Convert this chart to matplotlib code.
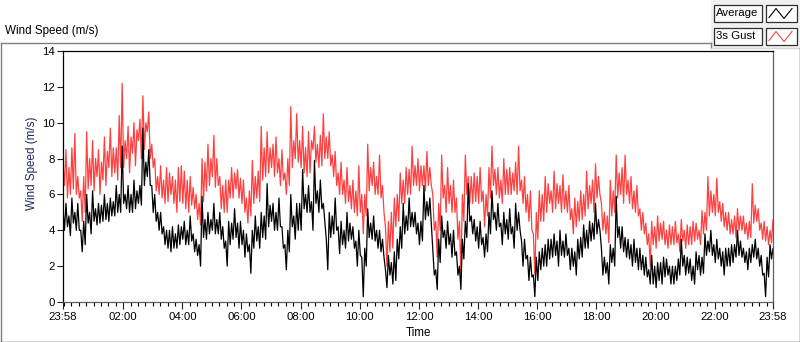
import matplotlib
matplotlib.use("Agg")
import matplotlib.pyplot as plt
import numpy as np
from matplotlib.patches import Rectangle
from matplotlib.lines import Line2D
from matplotlib.ticker import FixedLocator

plt.rcParams["font.family"] = ["Liberation Sans", "DejaVu Sans"]

# readings every 6 minutes from 23:58: the high and the low seen in each window
STEP_MIN = 6

gust_hi = [
    7.8, 8.5, 7.5, 8.6, 9.4, 7.0, 6.2, 7.0, 9.5, 8.0,
    9.0, 8.0, 8.5, 7.8, 9.2, 8.4, 9.7, 8.6, 8.6, 10.4,
    12.2, 9.0, 9.8, 9.2, 10.0, 9.6, 10.2, 11.5, 10.0, 10.6,
    8.8, 8.0, 7.0, 7.6, 6.8, 7.5, 7.2, 7.0, 6.8, 7.5,
    7.6, 7.3, 6.8, 7.0, 6.4, 6.0, 5.5, 8.0, 7.8, 8.8,
    8.0, 9.3, 8.0, 7.0, 6.5, 6.8, 6.8, 7.5, 7.2, 7.4,
    6.9, 6.8, 5.8, 6.2, 7.9, 7.0, 7.3, 9.8, 8.6, 9.5,
    8.6, 8.8, 9.2, 8.0, 8.5, 7.2, 8.0, 10.9, 9.0, 10.5,
    9.0, 9.8, 8.6, 9.5, 9.0, 9.8, 8.8, 9.3, 10.5, 9.2,
    9.5, 8.2, 8.4, 7.2, 7.8, 6.8, 7.5, 6.5, 6.8, 6.2,
    7.6, 6.0, 6.0, 8.8, 7.5, 7.8, 7.0, 8.2, 6.5, 4.2,
    4.5, 5.0, 5.8, 6.0, 7.2, 6.8, 7.5, 7.4, 8.7, 7.6,
    8.0, 7.6, 7.6, 8.4, 7.5, 6.0, 4.5, 5.5, 8.2, 6.5,
    7.5, 6.5, 6.8, 5.8, 4.5, 6.0, 8.2, 7.0, 7.0, 7.2,
    7.0, 7.5, 6.2, 6.0, 7.5, 8.7, 7.4, 7.5, 6.8, 8.0,
    7.4, 7.5, 7.2, 7.8, 8.7, 6.8, 7.0, 6.0, 6.2, 3.8,
    5.0, 6.2, 6.0, 7.0, 6.6, 6.2, 7.3, 6.6, 6.5, 7.1,
    6.2, 6.5, 5.2, 5.8, 5.6, 6.2, 6.0, 7.3, 6.5, 6.8,
    7.7, 7.0, 5.5, 5.0, 4.8, 6.8, 6.2, 8.2, 7.2, 7.5,
    8.2, 6.8, 7.0, 6.2, 6.5, 5.2, 5.0, 4.4, 3.8, 4.5,
    4.2, 4.8, 4.4, 4.5, 4.0, 4.3, 4.2, 4.5, 3.8, 4.6,
    4.0, 4.3, 4.2, 4.5, 4.4, 4.0, 5.1, 5.0, 7.0, 6.2,
    6.0, 6.9, 5.6, 5.5, 5.0, 5.0, 4.6, 4.8, 5.2, 4.8,
    4.8, 4.4, 4.5, 6.6, 5.4, 5.2, 4.4, 4.5, 4.2, 4.0, 4.6,
]

gust_lo = [
    6.5, 5.8, 6.0, 6.3, 6.0, 5.8, 4.5, 5.0, 6.3, 6.5,
    6.2, 7.0, 6.0, 6.8, 6.5, 7.5, 7.0, 7.2, 6.8, 7.5,
    7.5, 8.0, 7.2, 8.3, 7.6, 9.0, 8.0, 8.5, 9.5, 8.0,
    7.5, 6.2, 6.0, 5.8, 5.5, 5.6, 6.0, 5.5, 5.0, 5.6,
    5.5, 5.2, 5.0, 5.4, 5.2, 4.6, 4.3, 5.6, 6.2, 6.5,
    7.0, 6.4, 6.5, 5.2, 5.0, 5.0, 5.8, 5.8, 6.3, 5.8,
    5.5, 5.0, 4.4, 4.8, 5.5, 5.8, 5.6, 6.8, 7.0, 7.2,
    7.5, 7.0, 7.2, 6.5, 6.8, 6.0, 6.5, 7.5, 8.0, 7.8,
    7.5, 7.2, 7.0, 7.2, 8.5, 7.8, 7.5, 7.6, 8.0, 8.0,
    7.6, 7.0, 6.5, 6.0, 6.0, 5.5, 5.6, 5.2, 5.0, 4.8,
    5.0, 3.8, 4.8, 6.2, 6.5, 6.0, 6.0, 5.8, 5.0, 2.0,
    2.8, 3.0, 4.2, 4.5, 5.5, 5.5, 6.0, 6.0, 6.5, 6.5,
    6.2, 6.5, 6.2, 6.5, 6.5, 4.0, 2.5, 4.0, 5.8, 5.0,
    5.5, 5.0, 5.0, 3.5, 1.6, 4.5, 6.0, 5.5, 5.5, 5.6,
    5.5, 5.6, 4.2, 4.8, 5.8, 6.5, 6.0, 5.8, 5.5, 6.0,
    6.0, 6.0, 6.2, 6.0, 6.2, 5.5, 5.0, 4.5, 4.0, 1.5,
    3.5, 4.5, 4.5, 5.0, 5.5, 5.0, 5.2, 5.5, 5.0, 5.2,
    5.0, 4.6, 3.8, 4.2, 4.5, 4.6, 4.8, 5.2, 5.5, 5.0,
    5.8, 6.0, 4.0, 3.8, 3.3, 4.8, 5.0, 5.8, 6.0, 5.5,
    6.0, 5.5, 5.2, 5.0, 4.8, 4.0, 3.8, 3.2, 2.0, 3.2,
    3.0, 3.4, 3.5, 3.2, 3.0, 3.2, 3.2, 3.3, 2.8, 3.4,
    3.0, 3.2, 3.2, 3.4, 3.5, 3.2, 3.8, 4.0, 4.8, 5.0,
    4.8, 5.0, 4.5, 4.2, 4.0, 3.8, 3.8, 3.6, 4.0, 4.0,
    3.8, 3.5, 3.6, 4.4, 4.5, 4.0, 3.5, 3.4, 3.2, 3.3, 3.6,
]

avg_hi = [
    5.2, 5.5, 4.8, 5.8, 5.0, 5.5, 4.0, 4.5, 6.0, 5.0,
    6.2, 5.2, 5.5, 5.4, 6.0, 5.5, 5.8, 5.6, 6.5, 6.0,
    8.7, 6.0, 6.5, 6.0, 6.8, 6.2, 6.5, 9.7, 7.8, 8.5,
    6.5, 6.0, 5.0, 5.0, 4.2, 4.0, 4.0, 4.2, 3.8, 4.3,
    4.2, 4.5, 4.0, 4.8, 3.8, 3.5, 3.2, 5.9, 4.6, 5.0,
    4.6, 5.5, 4.6, 5.0, 4.2, 3.4, 4.5, 4.4, 5.2, 4.4,
    4.5, 4.0, 3.8, 3.2, 4.0, 4.8, 4.2, 5.0, 4.8, 6.6,
    5.4, 5.5, 5.0, 5.8, 4.2, 3.2, 4.0, 6.0, 4.8, 5.5,
    5.5, 7.4, 6.0, 6.5, 5.6, 7.9, 6.2, 6.8, 5.5, 3.5,
    5.0, 4.8, 5.8, 4.2, 4.5, 4.0, 5.0, 4.4, 4.2, 3.4,
    4.0, 2.5, 3.0, 5.2, 4.4, 4.8, 4.0, 4.0, 3.5, 1.8,
    2.6, 2.2, 2.8, 3.5, 4.2, 5.5, 4.8, 5.8, 5.0, 5.0,
    4.4, 4.5, 6.5, 5.6, 5.8, 3.0, 1.8, 3.5, 4.8, 4.0,
    4.5, 3.8, 4.0, 2.8, 2.0, 3.5, 4.5, 6.6, 4.8, 4.6,
    4.2, 4.5, 3.6, 3.8, 5.0, 6.2, 5.0, 5.5, 4.4, 5.0,
    4.6, 5.2, 4.2, 5.5, 5.0, 3.4, 3.5, 2.6, 2.5, 1.5,
    2.5, 2.8, 3.0, 3.2, 3.5, 3.5, 3.8, 3.4, 4.0, 3.4,
    3.8, 3.0, 3.0, 2.8, 3.5, 3.6, 4.3, 4.0, 4.5, 4.4,
    5.5, 4.6, 3.0, 2.5, 2.2, 3.2, 3.0, 5.9, 4.2, 4.2,
    3.6, 3.5, 3.2, 3.5, 3.0, 3.0, 2.6, 2.5, 1.8, 2.6,
    2.0, 2.2, 2.2, 2.5, 2.4, 2.0, 2.0, 2.0, 2.4, 3.5,
    2.6, 2.5, 2.4, 2.0, 2.8, 2.6, 2.5, 3.8, 3.4, 4.0,
    3.2, 3.5, 3.0, 2.8, 3.0, 3.0, 3.2, 3.2, 4.0, 3.4,
    3.0, 2.8, 3.0, 3.2, 3.5, 3.0, 2.6, 1.6, 2.5, 3.2, 3.0,
]

avg_lo = [
    4.0, 4.2, 3.7, 4.4, 4.0, 4.0, 2.8, 3.2, 4.4, 3.8,
    4.5, 4.3, 4.4, 4.5, 4.6, 4.5, 4.8, 4.8, 5.0, 5.0,
    5.5, 5.2, 5.0, 5.0, 5.2, 5.5, 5.4, 6.5, 7.0, 6.5,
    5.0, 4.5, 4.0, 3.8, 3.2, 3.0, 2.8, 3.0, 3.0, 3.2,
    3.5, 3.2, 3.2, 3.4, 2.8, 2.6, 2.0, 3.6, 3.5, 3.8,
    4.0, 3.8, 3.8, 3.5, 3.0, 2.0, 3.2, 3.5, 3.6, 3.0,
    3.2, 2.5, 2.8, 1.6, 3.0, 3.4, 3.0, 3.6, 3.5, 4.2,
    4.5, 4.0, 4.0, 4.2, 3.0, 1.8, 2.8, 4.2, 3.5, 4.0,
    4.0, 5.2, 5.0, 5.0, 4.0, 5.5, 5.0, 5.2, 4.5, 1.8,
    3.6, 3.8, 4.0, 2.7, 3.2, 3.0, 3.4, 3.5, 3.0, 2.0,
    2.6, 0.3, 2.0, 3.6, 3.5, 3.4, 3.0, 2.8, 2.5, 0.8,
    1.5, 1.0, 1.2, 2.4, 3.0, 3.8, 4.0, 4.2, 4.2, 3.8,
    3.2, 3.4, 4.6, 4.8, 4.4, 1.5, 0.7, 2.2, 3.6, 3.0,
    3.2, 2.5, 2.6, 1.5, 0.7, 2.4, 3.6, 4.5, 3.8, 3.4,
    3.0, 3.2, 2.5, 2.8, 3.8, 4.6, 4.0, 4.2, 3.2, 3.8,
    3.5, 3.8, 3.0, 4.0, 4.0, 2.0, 2.4, 1.2, 1.4, 0.3,
    1.2, 1.8, 2.0, 2.0, 2.4, 2.5, 2.6, 2.0, 2.6, 2.5,
    2.6, 1.8, 2.0, 1.5, 2.4, 2.5, 3.0, 3.0, 3.4, 3.5,
    3.8, 4.0, 1.5, 1.6, 1.0, 2.2, 2.0, 3.6, 3.0, 2.8,
    2.5, 2.4, 2.0, 2.2, 1.8, 1.8, 1.5, 1.4, 1.0, 1.0,
    0.8, 1.2, 1.0, 1.4, 1.5, 1.0, 1.0, 1.2, 1.5, 2.0,
    1.5, 1.6, 1.2, 1.0, 1.8, 1.5, 1.6, 2.6, 2.8, 2.6,
    2.2, 2.4, 2.0, 1.5, 2.0, 2.0, 2.2, 2.5, 2.6, 2.5,
    2.2, 1.8, 2.2, 2.5, 2.4, 2.0, 1.5, 0.3, 1.4, 2.4, 2.2,
]

# minutes after 23:58 for the labelled ticks
tick_min = [0, 122, 242, 362, 482, 602, 722, 842, 962, 1082, 1202, 1322, 1440]
tick_lbl = ["23:58", "02:00", "04:00", "06:00", "08:00", "10:00", "12:00",
            "14:00", "16:00", "18:00", "20:00", "22:00", "23:58"]

RED = "#ff4040"
NAVY = "#1c2a5e"


def zigzag(hi, lo):
    """high of each window at its start, low half a step later"""
    n = len(hi)
    t = np.column_stack((np.arange(n) * STEP_MIN,
                         np.arange(n) * STEP_MIN + STEP_MIN / 2)).ravel()
    v = np.column_stack((hi, lo)).ravel()
    return t, v


fig = plt.figure(figsize=(8, 3.42), dpi=100)

# frame / legend decoration drawn in pixel space
deco = fig.add_axes([0, 0, 1, 1])
deco.set_xlim(0, 800)
deco.set_ylim(342, 0)
deco.axis("off")
deco.add_patch(Rectangle((711, 0), 89, 48, fc="#f0f0f0", ec="none"))
gray = "#808080"
deco.add_line(Line2D([0.5, 711], [42.5, 42.5], color=gray, lw=1))
deco.add_line(Line2D([0.5, 0.5], [42.5, 342], color=gray, lw=1))
deco.add_line(Line2D([0.5, 799], [341.5, 341.5], color="#404040", lw=1))
deco.add_line(Line2D([711, 711], [42.5, 48], color=gray, lw=1))
deco.add_line(Line2D([711, 799.5], [48, 48], color="#d8d8d8", lw=1))
deco.add_line(Line2D([799.5, 799.5], [48, 342], color="#404040", lw=1))
for y0, name, col in [(4.5, "Average", "black"), (27.5, "3s Gust", RED)]:
    deco.add_patch(Rectangle((714, y0), 48, 17, fc="#fbfbfb", ec="#303030", lw=0.9))
    deco.text(716, y0 + 8.8, name, fontsize=8.2, va="center", ha="left", color="black")
    deco.add_patch(Rectangle((766, y0), 31, 17, fc="white", ec="#303030", lw=0.9))
    deco.add_line(Line2D([769, 776, 784, 792], [y0 + 13, y0 + 4, y0 + 14, y0 + 4],
                         color=col, lw=0.8))
deco.text(5, 31, "Wind Speed (m/s)", fontsize=8.4, va="center", ha="left")

ax = fig.add_axes([63 / 800, 40 / 342, 710 / 800, 251 / 342])
tg, vg = zigzag(gust_hi, gust_lo)
ta, va = zigzag(avg_hi, avg_lo)
ax.plot(tg, vg, color=RED, lw=0.9)
ax.plot(ta, va, color="black", lw=0.9)
ax.set_xlim(0, 1440)
ax.set_ylim(0, 14)
ax.set_yticks(range(0, 15, 2))
ax.set_xticks(tick_min)
ax.set_xticklabels(tick_lbl)
ax.xaxis.set_minor_locator(FixedLocator(np.arange(2, 1440, 15)))
ax.tick_params(axis="both", labelsize=8.2, width=0.8, color="#202020", pad=2)
ax.tick_params(axis="y", length=4)
ax.tick_params(axis="x", which="major", length=5)
ax.tick_params(axis="x", which="minor", length=3, width=0.8)
for s in ax.spines.values():
    s.set_linewidth(0.9)
ax.spines["right"].set_color("#606060")
ax.spines["bottom"].set_color("#606060")
ax.set_xlabel("Time", fontsize=8.4)
ax.xaxis.set_label_coords(0.5, -0.10)
ax.set_ylabel("Wind Speed (m/s)", fontsize=8.4, color=NAVY)
ax.yaxis.set_label_coords(-0.035, 0.554)

fig.savefig("out.png", dpi=100)
